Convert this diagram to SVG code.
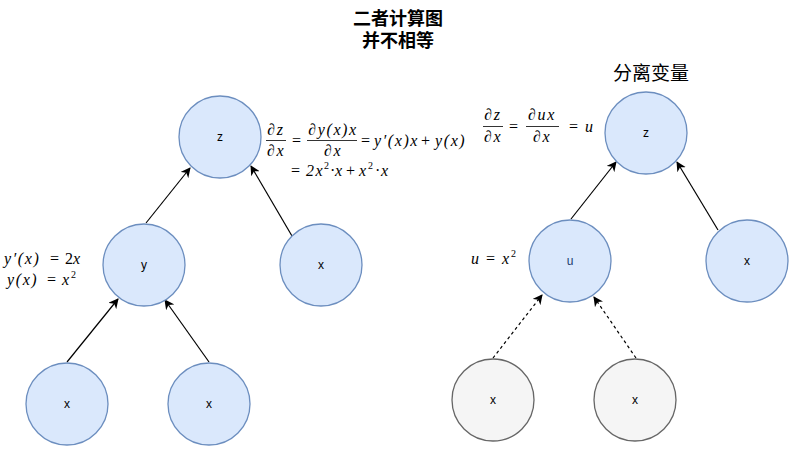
<svg xmlns="http://www.w3.org/2000/svg" width="797" height="459" viewBox="0 0 797 459">
<style>
.n{fill:#dae8fc;stroke:#6c8ebf;stroke-width:1.3}
.g{fill:#f5f5f5;stroke:#666666;stroke-width:1.3}
.lb{font-family:"Liberation Sans",Arial,sans-serif;font-size:12px;fill:#000;text-anchor:middle;dominant-baseline:central}
.e{stroke:#000;stroke-width:1.2;fill:none;marker-end:url(#a)}
.d{stroke-dasharray:3 3}
.m{font-family:"Liberation Serif","Times New Roman",serif;font-size:16px;font-style:italic;letter-spacing:1.6px;fill:#000}
.mu{font-family:"Liberation Serif","Times New Roman",serif;font-size:16px;font-style:normal;fill:#000}
.s{font-size:10px;font-style:normal}
.t{font-family:"Liberation Sans","Noto Sans CJK SC",sans-serif;font-size:18px;font-weight:bold;text-anchor:middle;fill:#000}
.fl{stroke:#000;stroke-width:0.8}
</style>
<defs>
<marker id="a" viewBox="0 0 10 10" refX="9" refY="5" markerWidth="10" markerHeight="10" markerUnits="userSpaceOnUse" orient="auto">
<path d="M0,0 L10,5 L0,10 L3,5 Z" fill="#000"/>
</marker>
</defs>
<g id="title">
<text class="t" x="398" y="25">二者计算图</text>
<text class="t" x="398" y="47">并不相等</text>
</g>
<text x="651" y="80" style="font-family:'Liberation Sans','Noto Sans CJK SC',sans-serif;font-size:19px;text-anchor:middle">分离变量</text>
<g id="connectors">
<line class="e" x1="146" y1="223" x2="190" y2="168"/>
<line class="e" x1="292" y1="236" x2="251" y2="166"/>
<line class="e" x1="67" y1="362" x2="118" y2="299"/>
<line class="e" x1="209" y1="362" x2="165" y2="300"/>
<line class="e" x1="571" y1="219" x2="616" y2="162"/>
<line class="e" x1="718" y1="230" x2="677" y2="162"/>
<line class="e d" x1="493" y1="358" x2="542" y2="295"/>
<line class="e d" x1="636" y1="358" x2="594" y2="297"/>
</g>
<g id="z1"><circle class="n" cx="220" cy="137" r="41"/><text class="lb" x="220" y="137">z</text></g>
<g id="y1"><circle class="n" cx="144" cy="265" r="41"/><text class="lb" x="144" y="265">y</text></g>
<g id="x1"><circle class="n" cx="321" cy="265" r="41"/><text class="lb" x="321" y="265">x</text></g>
<g id="x2"><circle class="n" cx="67" cy="404" r="41"/><text class="lb" x="67" y="404">x</text></g>
<g id="x3"><circle class="n" cx="209" cy="404" r="41"/><text class="lb" x="209" y="404">x</text></g>
<g id="z2"><circle class="n" cx="646" cy="133" r="41"/><text class="lb" x="646" y="133">z</text></g>
<g id="u"><circle class="n" cx="570" cy="261" r="41"/><text class="lb" x="570" y="261" style="fill:#1a3a6e">u</text></g>
<g id="x4"><circle class="n" cx="747" cy="261" r="41"/><text class="lb" x="747" y="261">x</text></g>
<g id="x5"><circle class="g" cx="493" cy="400" r="41"/><text class="lb" x="493" y="400">x</text></g>
<g id="x6"><circle class="g" cx="635" cy="400" r="41"/><text class="lb" x="635" y="400">x</text></g>
<g id="formula1">
<text class="m" x="276" y="135" text-anchor="middle">∂z</text>
<line class="fl" x1="266" y1="140.5" x2="286" y2="140.5"/>
<text class="m" x="276" y="156" text-anchor="middle">∂x</text>
<text class="mu" x="292" y="146">=</text>
<text class="m" x="333" y="135" text-anchor="middle">∂y(x)x</text>
<line class="fl" x1="307" y1="140.5" x2="357" y2="140.5"/>
<text class="m" x="333" y="156" text-anchor="middle">∂x</text>
<text class="mu" x="361" y="146">=</text>
<text class="m" x="374" y="146">y′(x)x</text>
<text class="mu" x="421" y="146">+</text>
<text class="m" x="435" y="146">y(x)</text>
<text class="mu" x="291" y="176">=</text>
<text class="m" x="306" y="176">2x</text>
<text class="mu s" x="324" y="169">2</text>
<text class="mu" x="330" y="176">·</text>
<text class="m" x="335" y="176">x</text>
<text class="mu" x="346" y="176">+</text>
<text class="m" x="359" y="176">x</text>
<text class="mu s" x="368" y="169">2</text>
<text class="mu" x="375" y="176">·</text>
<text class="m" x="381" y="176">x</text>
</g>
<g id="formula2">
<text class="m" x="4" y="264">y′(x)</text>
<text class="mu" x="50" y="264">=</text>
<text class="mu" x="65" y="264">2</text><text class="m" x="73" y="264">x</text>
<text class="m" x="7" y="285">y(x)</text>
<text class="mu" x="47" y="285">=</text>
<text class="m" x="62" y="285">x</text>
<text class="mu s" x="71" y="278">2</text>
</g>
<g id="formula3">
<text class="m" x="493" y="120" text-anchor="middle">∂z</text>
<line class="fl" x1="483" y1="126.5" x2="503" y2="126.5"/>
<text class="m" x="493" y="142" text-anchor="middle">∂x</text>
<text class="mu" x="509" y="132">=</text>
<text class="m" x="542" y="120" text-anchor="middle">∂ux</text>
<line class="fl" x1="526" y1="126.5" x2="559" y2="126.5"/>
<text class="m" x="542" y="142" text-anchor="middle">∂x</text>
<text class="mu" x="569" y="132">=</text>
<text class="m" x="585" y="132">u</text>
</g>
<g id="formula4">
<text class="m" x="471" y="264">u</text>
<text class="mu" x="486" y="264">=</text>
<text class="m" x="502" y="264">x</text>
<text class="mu s" x="511" y="257">2</text>
</g>
</svg>
